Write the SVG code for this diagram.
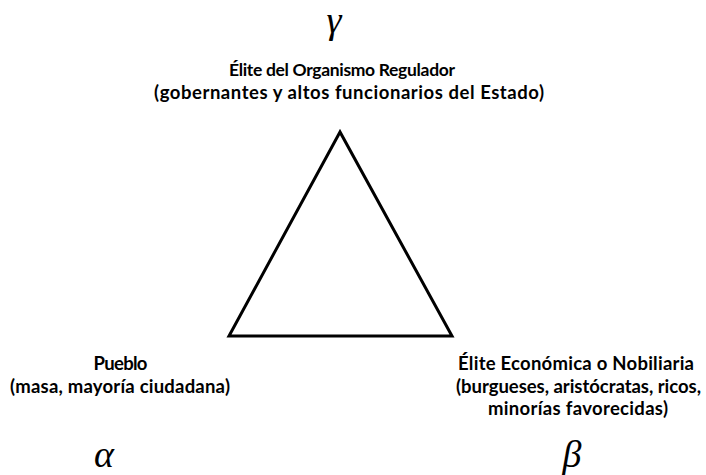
<svg xmlns="http://www.w3.org/2000/svg" width="706" height="475" viewBox="0 0 706 475">
<style>
.lbl{font-family:Lato,"Liberation Sans",sans-serif;font-weight:bold;font-size:18.5px;fill:#000;text-anchor:middle}
.greek{font-family:"Liberation Serif","DejaVu Serif",serif;font-style:italic;font-size:38px;fill:#000;text-anchor:middle}
.tri{fill:none;stroke:#000;stroke-width:3;stroke-linejoin:miter}
</style>
<rect width="706" height="475" fill="#fff"/>
<g id="triangle">
<polygon class="tri" points="340,132 229,336 452,336"/>
</g>
<g id="node-gamma">
<text class="greek" x="334" y="33">γ</text>
<text class="lbl" x="342" y="76" style="font-size:17.5px" textLength="226">Élite del Organismo Regulador</text>
<text class="lbl" x="349" y="99" textLength="390">(gobernantes y altos funcionarios del Estado)</text>
</g>
<g id="node-alpha">
<text class="lbl" x="120.5" y="370" textLength="54">Pueblo</text>
<text class="lbl" x="120" y="393" textLength="220">(masa, mayoría ciudadana)</text>
<text class="greek" x="104" y="467">α</text>
</g>
<g id="node-beta">
<text class="lbl" x="576" y="370" textLength="236">Élite Económica o Nobiliaria</text>
<text class="lbl" x="578.5" y="393" textLength="245">(burgueses, aristócratas, ricos,</text>
<text class="lbl" x="578" y="415" textLength="180">minorías favorecidas)</text>
<text class="greek" x="572" y="467">β</text>
</g>
<g id="connectors"></g>
</svg>
